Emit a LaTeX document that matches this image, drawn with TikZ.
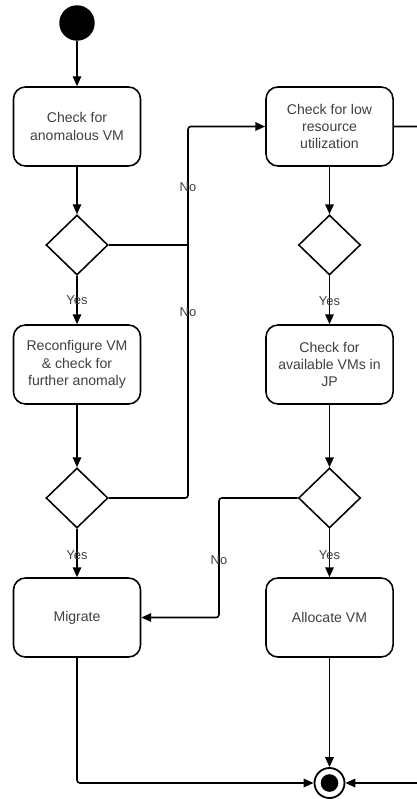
\documentclass[tikz,border=0pt]{standalone}
\usepackage{fontspec}
\setmainfont{Liberation Sans}
\usetikzlibrary{shapes.geometric,arrows.meta}
\pgfdeclarelayer{edgelayer}
\pgfdeclarelayer{nodelayer}
\pgfsetlayers{edgelayer,nodelayer,main}
\tikzset{font=\fontsize{10}{12.4}\selectfont}
\tikzstyle{none}=[inner sep=0pt]
\tikzstyle{init}=[circle,fill=black,draw,line width=1pt,inner sep=0pt,minimum size=0.85cm]
\tikzstyle{final}=[circle,fill=white,draw,line width=1.3pt,inner sep=0pt,minimum size=0.75cm]
\tikzstyle{finaldot}=[circle,fill=black,inner sep=0pt,minimum size=0.44cm]
\tikzstyle{act}=[rectangle,rounded corners=0.3cm,draw,line width=1.1pt,fill=white,text=black!75,align=center,minimum width=3.175cm,minimum height=1.975cm]
\tikzstyle{dec}=[diamond,draw,line width=1.1pt,fill=white,inner sep=0pt,minimum width=1.55cm,minimum height=1.5cm]
\tikzstyle{lbl}=[inner sep=0pt,text=black!75,font=\fontsize{9.2}{10}\selectfont]
\tikzstyle{flow}=[line width=1.1pt,rounded corners=2pt,-{Triangle[length=7pt,width=6pt]}]
\tikzstyle{link}=[line width=1.1pt,rounded corners=2pt]

\begin{document}
\begin{tikzpicture}[x=0.025cm,y=-0.025cm]
	\useasboundingbox (0,0) rectangle (416,799);
	\begin{pgfonlayer}{nodelayer}
		\node [style=init] (start) at (77, 23) {};
		\node [style=act] (anom) at (77, 126.5) {Check for\\anomalous VM};
		\node [style=act] (low) at (329.5, 126.5) {Check for low\\resource\\utilization};
		\node [style=dec] (d1) at (77, 245) {};
		\node [style=dec] (d3) at (329.5, 245) {};
		\node [style=act] (reconf) at (77, 364.5) {Reconfigure VM\\\& check for\\further anomaly};
		\node [style=act] (avail) at (329.5, 364.5) {Check for\\available VMs in\\JP};
		\node [style=dec] (d2) at (77, 498) {};
		\node [style=dec] (d4) at (329.5, 498) {};
		\node [style=act] (mig) at (77, 617.5) {Migrate};
		\node [style=act] (alloc) at (329.5, 617.5) {Allocate VM};
		\node [style=final] (fin) at (329.5, 783) {};
		\node [style=finaldot] (findot) at (329.5, 783) {};
		\coordinate (join) at (188, 245);
		\coordinate (bend2) at (188, 498);
		\coordinate (bend4) at (219, 498);
		\coordinate (offR) at (430, 126.5);
	\end{pgfonlayer}
	\begin{pgfonlayer}{edgelayer}
		% left column
		\draw[style=flow] (start) to (anom);
		\draw[style=flow] (anom) to (d1);
		\draw[style=flow] (d1) to node[style=lbl,pos=0.5] {Yes} (reconf);
		\draw[style=flow] (reconf) to (d2);
		\draw[style=flow] (d2) to node[style=lbl,pos=0.54] {Yes} (mig);
		\draw[style=link] (d1.east) to (join);
		\draw[style=flow] (d2.east) -- (bend2) |- node[style=lbl,pos=0.25] {No} node[style=lbl,pos=0.418] {No} (low.west);
		% right column
		\draw[style=flow] (low) to (d3);
		\draw[style=flow] (d3) to node[style=lbl,pos=0.52] {Yes} (avail);
		\draw[style=flow] (avail) to (d4);
		\draw[style=flow] (d4) to node[style=lbl,pos=0.54] {Yes} (alloc);
		\draw[style=flow] (d4.west) -- (bend4) |- node[style=lbl,pos=0.26] {No} (mig.east);
		% to the end
		\draw[style=flow] (alloc) to (fin);
		\draw[style=flow] (mig) |- (fin.west);
		\draw[style=flow] (low.east) -- (offR) |- (fin.east);
	\end{pgfonlayer}
\end{tikzpicture}
\end{document}
